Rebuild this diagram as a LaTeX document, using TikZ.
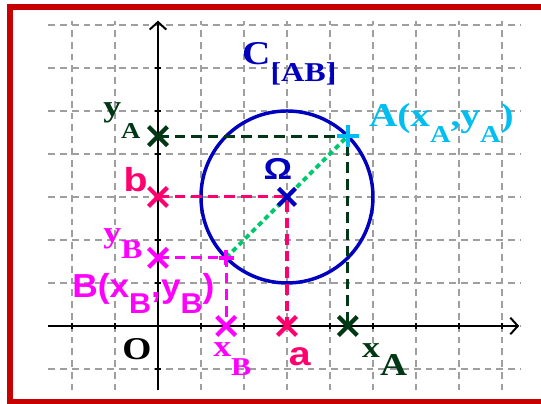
\documentclass[tikz,border=0pt]{standalone}
\usepackage{fontspec}
\setmainfont{Liberation Serif}
\setsansfont{Liberation Sans}
\usetikzlibrary{arrows.meta}
\definecolor{borde}{RGB}{200,0,0}
\definecolor{azul}{RGB}{0,0,190}
\definecolor{celeste}{RGB}{0,190,240}
\definecolor{verdeosc}{RGB}{0,55,20}
\definecolor{rosa}{RGB}{255,0,110}
\definecolor{fucsia}{RGB}{255,0,255}
\definecolor{verdediam}{RGB}{0,200,110}
% subindice: [tamano]{bajada en pt}{texto}
\newcommand{\sbs}[3][15]{\raisebox{-#2pt}{\fontsize{#1}{#1}\selectfont #3}}

\begin{document}
\begin{tikzpicture}[
    rejilla/.style={gray!75, line width=1.1pt, dash pattern=on 4.5pt off 3.3pt},
    eje/.style={line width=1.3pt, -{Straight Barb[length=5pt,width=11pt]}},
    guia/.style={line width=2pt, dash pattern=on 7pt off 4pt},
    diametro/.style={verdediam, line width=2.6pt, dash pattern=on 3.5pt off 2.5pt},
    etiq/.style={inner sep=0pt, xscale=1.18, font=\fontsize{22}{26}\selectfont\bfseries},
    etiqs/.style={etiq, font=\fontsize{22}{26}\selectfont\sffamily\bfseries},
    aspa/.pic={\draw[line width=2.8pt] (-.22,-.22) -- (.22,.22) (-.22,.22) -- (.22,-.22);},
    cruz/.pic={\draw[line width=2.8pt] (-.25,0) -- (.25,0) (0,-.25) -- (0,.25);}
]
\useasboundingbox (-3.674,-1.791) rectangle (8.907,7.581);

% marco
\draw[borde, line width=4pt] (-3.44,-1.77) rectangle (9.3,7.41);

% rejilla
\foreach \x in {-2,...,8}
    \draw[rejilla] (\x,-1.5) -- (\x,7.1);
\foreach \y in {-1,...,7}
    \draw[rejilla] (-2.55,\y) -- (8.45,\y);

% ejes
\draw[eje] (-2.55,0) -- (8.4,0);
\draw[eje] (0,-1.5) -- (0,7.1);
\foreach \t in {-2,...,8}
    \draw[line width=1pt] (\t,-.07) -- (\t,.07);
\foreach \t in {-1,...,6}
    \draw[line width=1pt] (-.07,\t) -- (.07,\t);

% puntos
\coordinate (O) at (0,0);
\coordinate (W) at (3,3);
\coordinate (A) at (4.414,4.414);
\coordinate (B) at (1.586,1.586);
\coordinate (xA) at (4.414,0);
\coordinate (yA) at (0,4.414);
\coordinate (a) at (3,0);
\coordinate (b) at (0,3);
\coordinate (xB) at (1.586,0);
\coordinate (yB) at (0,1.586);

% circulo de diametro [AB]
\draw[azul, line width=2.3pt] (W) circle (2);

% proyecciones
\draw[guia, verdeosc] (yA) -- (A) -- (xA);
\draw[guia, rosa] (b) -- (W) -- (a);
\draw[guia, fucsia] (yB) -- (B) -- (xB);
\draw[diametro] (B) -- (A);

% marcas
\pic[verdeosc] at (yA) {aspa};
\pic[verdeosc] at (xA) {aspa};
\pic[rosa] at (b) {aspa};
\pic[rosa] at (a) {aspa};
\pic[fucsia] at (yB) {aspa};
\pic[fucsia] at (xB) {aspa};
\pic[azul, scale=.9] at (W) {aspa};
\pic[celeste] at (A) {cruz};
\pic[fucsia, scale=.7] at (B) {cruz};

% etiquetas
\node[etiq, azul, anchor=base west] (lC) at (1.95,6.07) {C\sbs[18]{11}{[AB]}};
\node[etiqs, azul, anchor=base, font=\fontsize{20}{24}\selectfont\sffamily\bfseries] (lW) at (2.79,3.40) {Ω};
\node[etiq, celeste, anchor=base west] (lA) at (4.90,4.63) {A(x\sbs[16]{10}{A},y\sbs[16]{10}{A})};
\node[etiqs, fucsia, anchor=base west, xscale=0.9] (lB) at (-2.0,0.67) {B(x\sbs[19]{10.5}{B},y\sbs[19]{10.5}{B})};
\node[etiq, verdeosc, anchor=base west, font=\fontsize{20}{24}\selectfont\bfseries] (lyA) at (-1.28,4.86) {y\sbs[15]{14}{A}};
\node[etiq, verdeosc, anchor=base west, font=\fontsize{20}{24}\selectfont\bfseries] (lxA) at (4.74,-0.74) {x\sbs[21]{12}{A}};
\node[etiqs, rosa, anchor=base west] (lb) at (-0.81,3.12) {b};
\node[etiqs, rosa, anchor=base] (la) at (3.30,-0.91) {a};
\node[etiq, fucsia, anchor=base west, font=\fontsize{20}{24}\selectfont\bfseries] (lyB) at (-1.28,1.93) {y\sbs[18]{10}{B}};
\node[etiq, fucsia, anchor=base west, font=\fontsize{20}{24}\selectfont\bfseries] (lxB) at (1.28,-0.72) {x\sbs[17]{12}{B}};
\node[etiq, anchor=base, font=\fontsize{21}{25}\selectfont\bfseries] (lO) at (-0.49,-0.79) {O};

\end{tikzpicture}
\end{document}
